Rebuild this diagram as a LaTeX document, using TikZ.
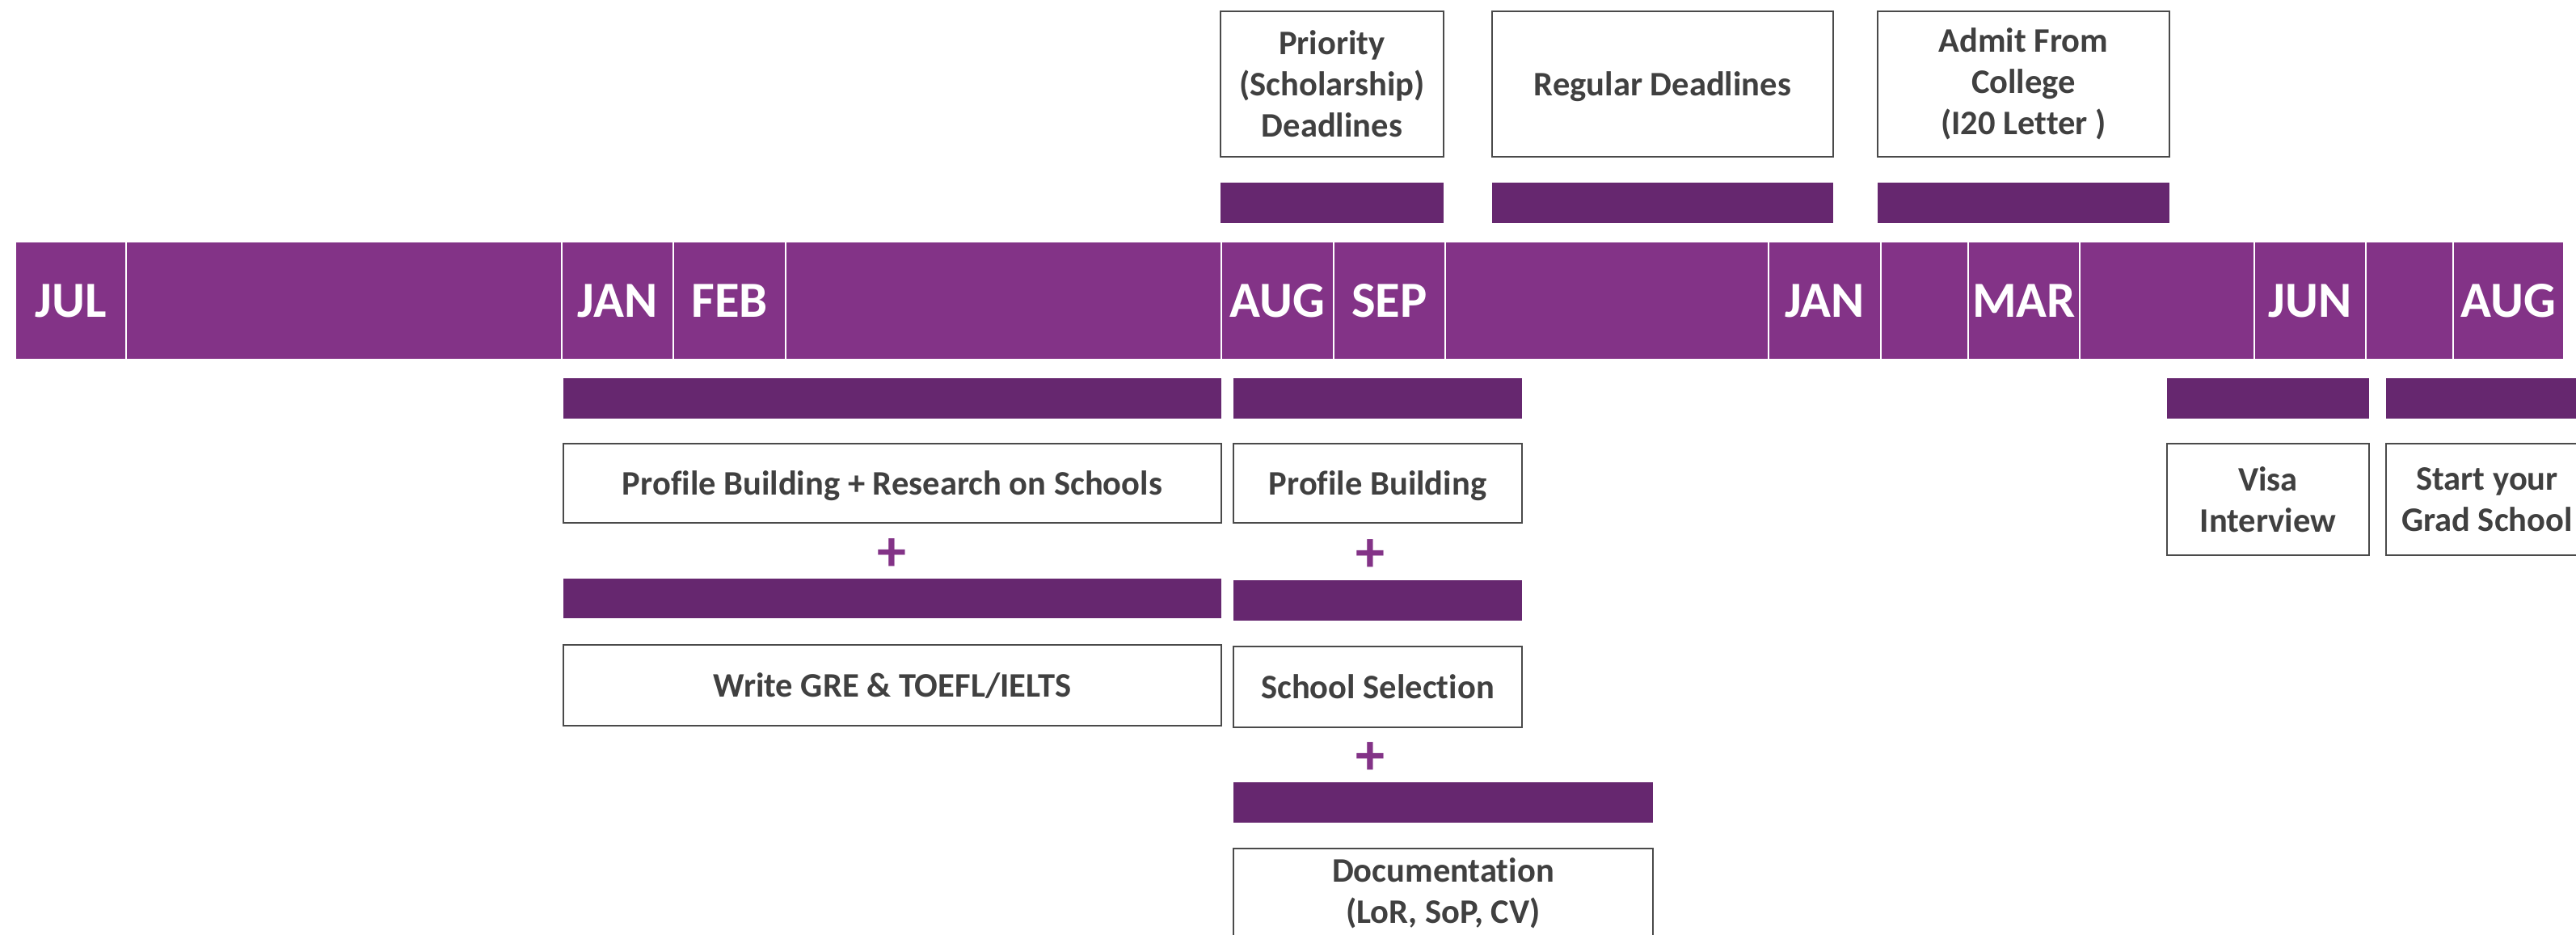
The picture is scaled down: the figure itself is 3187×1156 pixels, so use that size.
\documentclass[tikz,border=0pt]{standalone}
\usepackage{fontspec}
\setmainfont{Carlito}[Ligatures=NoCommon]
\definecolor{tlpurple}{HTML}{833387}
\definecolor{barpurple}{HTML}{66276F}
\definecolor{textgray}{HTML}{404040}
\definecolor{boxgray}{HTML}{4A4A4A}
\newcommand\mkrect[7]{%
  \pgfmathsetmacro\rcx{(#3+#5)/2}\pgfmathsetmacro\rcy{(#4+#6)/2}%
  \pgfmathsetmacro\rw{(#5-#3)/100}\pgfmathsetmacro\rh{(#6-#4)/100}%
  \node[#1, minimum width=\rw cm, minimum height=\rh cm] (#2) at (\rcx,\rcy) {#7};}
\tikzset{
  month/.style={fill=tlpurple, draw=white, line width=0.6pt, text=white,
    font=\bfseries\fontsize{17.8}{20}\selectfont, inner sep=0pt, outer sep=0pt},
  darkbar/.style={fill=barpurple, draw=none, inner sep=0pt, outer sep=0pt},
  infobox/.style={fill=white, draw=boxgray, line width=0.7pt, text=textgray,
    font=\bfseries\fontsize{12.1}{14.5}\selectfont, align=center, inner sep=0pt, outer sep=0pt},
  oneline/.style={infobox, text depth=0pt},
  plussign/.style={text=tlpurple, font=\bfseries\fontsize{20.5}{20.5}\selectfont, inner sep=0pt}
}
\begin{document}
\begin{tikzpicture}[x=0.01cm, y=-0.01cm]
\useasboundingbox (0,0) rectangle (3187,1156);
\clip (0,0) rectangle (3187,1156);
% timeline
\mkrect{month}{m1}{19}{299}{156}{445}{JUL}
\mkrect{month}{m2}{156}{299}{695}{445}{}
\mkrect{month}{m3}{695}{299}{833}{445}{JAN}
\mkrect{month}{m4}{833}{299}{972}{445}{FEB}
\mkrect{month}{m5}{972}{299}{1511}{445}{}
\mkrect{month}{m6}{1511}{299}{1650}{445}{AUG}
\mkrect{month}{m7}{1650}{299}{1788}{445}{SEP}
\mkrect{month}{m8}{1788}{299}{2188}{445}{}
\mkrect{month}{m9}{2188}{299}{2327}{445}{JAN}
\mkrect{month}{m10}{2327}{299}{2435}{445}{}
\mkrect{month}{m11}{2435}{299}{2573}{445}{MAR}
\mkrect{month}{m12}{2573}{299}{2789}{445}{}
\mkrect{month}{m13}{2789}{299}{2927}{445}{JUN}
\mkrect{month}{m14}{2927}{299}{3035}{445}{}
\mkrect{month}{m15}{3035}{299}{3172}{445}{AUG}
% top boxes
\mkrect{infobox}{t1}{1510}{14}{1786}{194}{Priority\\(Scholarship)\\Deadlines}
\mkrect{oneline}{t2}{1846}{14}{2268}{194}{Regular Deadlines}
\mkrect{infobox}{t3}{2323}{14}{2684}{194}{Admit From\\College\\(I20 Letter )}
\mkrect{darkbar}{tb1}{1510}{226}{1786}{276}{}
\mkrect{darkbar}{tb2}{1846}{226}{2268}{276}{}
\mkrect{darkbar}{tb3}{2323}{226}{2684}{276}{}
% lower bars
\mkrect{darkbar}{b1}{697}{468}{1511}{518}{}
\mkrect{darkbar}{b2}{1526}{468}{1883}{518}{}
\mkrect{darkbar}{b3}{2681}{468}{2931}{518}{}
\mkrect{darkbar}{b4}{2952}{468}{3202}{518}{}
% row 1 boxes
\mkrect{oneline}{p1}{697}{549}{1511}{647}{Profile Building + Research on Schools}
\mkrect{oneline}{p2}{1526}{549}{1883}{647}{Profile Building}
\mkrect{infobox}{visa}{2681}{549}{2931}{687}{Visa\\Interview}
\mkrect{infobox}{grad}{2952}{549}{3202}{687}{Start your\\Grad School}
% plus signs
\node[plussign] (plus1) at (1103,687) {+};
\node[plussign] (plus2) at (1695,688) {+};
% row 2
\mkrect{darkbar}{b5}{697}{716}{1511}{765}{}
\mkrect{darkbar}{b6}{1526}{718}{1883}{768}{}
\mkrect{oneline}{gre}{697}{798}{1511}{898}{Write GRE \& TOEFL/IELTS}
\mkrect{oneline}{sel}{1526}{800}{1883}{900}{School Selection}
\node[plussign] (plus3) at (1695,939) {+};
\mkrect{darkbar}{b7}{1526}{968}{2045}{1018}{}
\mkrect{infobox}{doc}{1526}{1050}{2045}{1160}{Documentation\\(LoR, SoP, CV)}
\end{tikzpicture}
\end{document}
